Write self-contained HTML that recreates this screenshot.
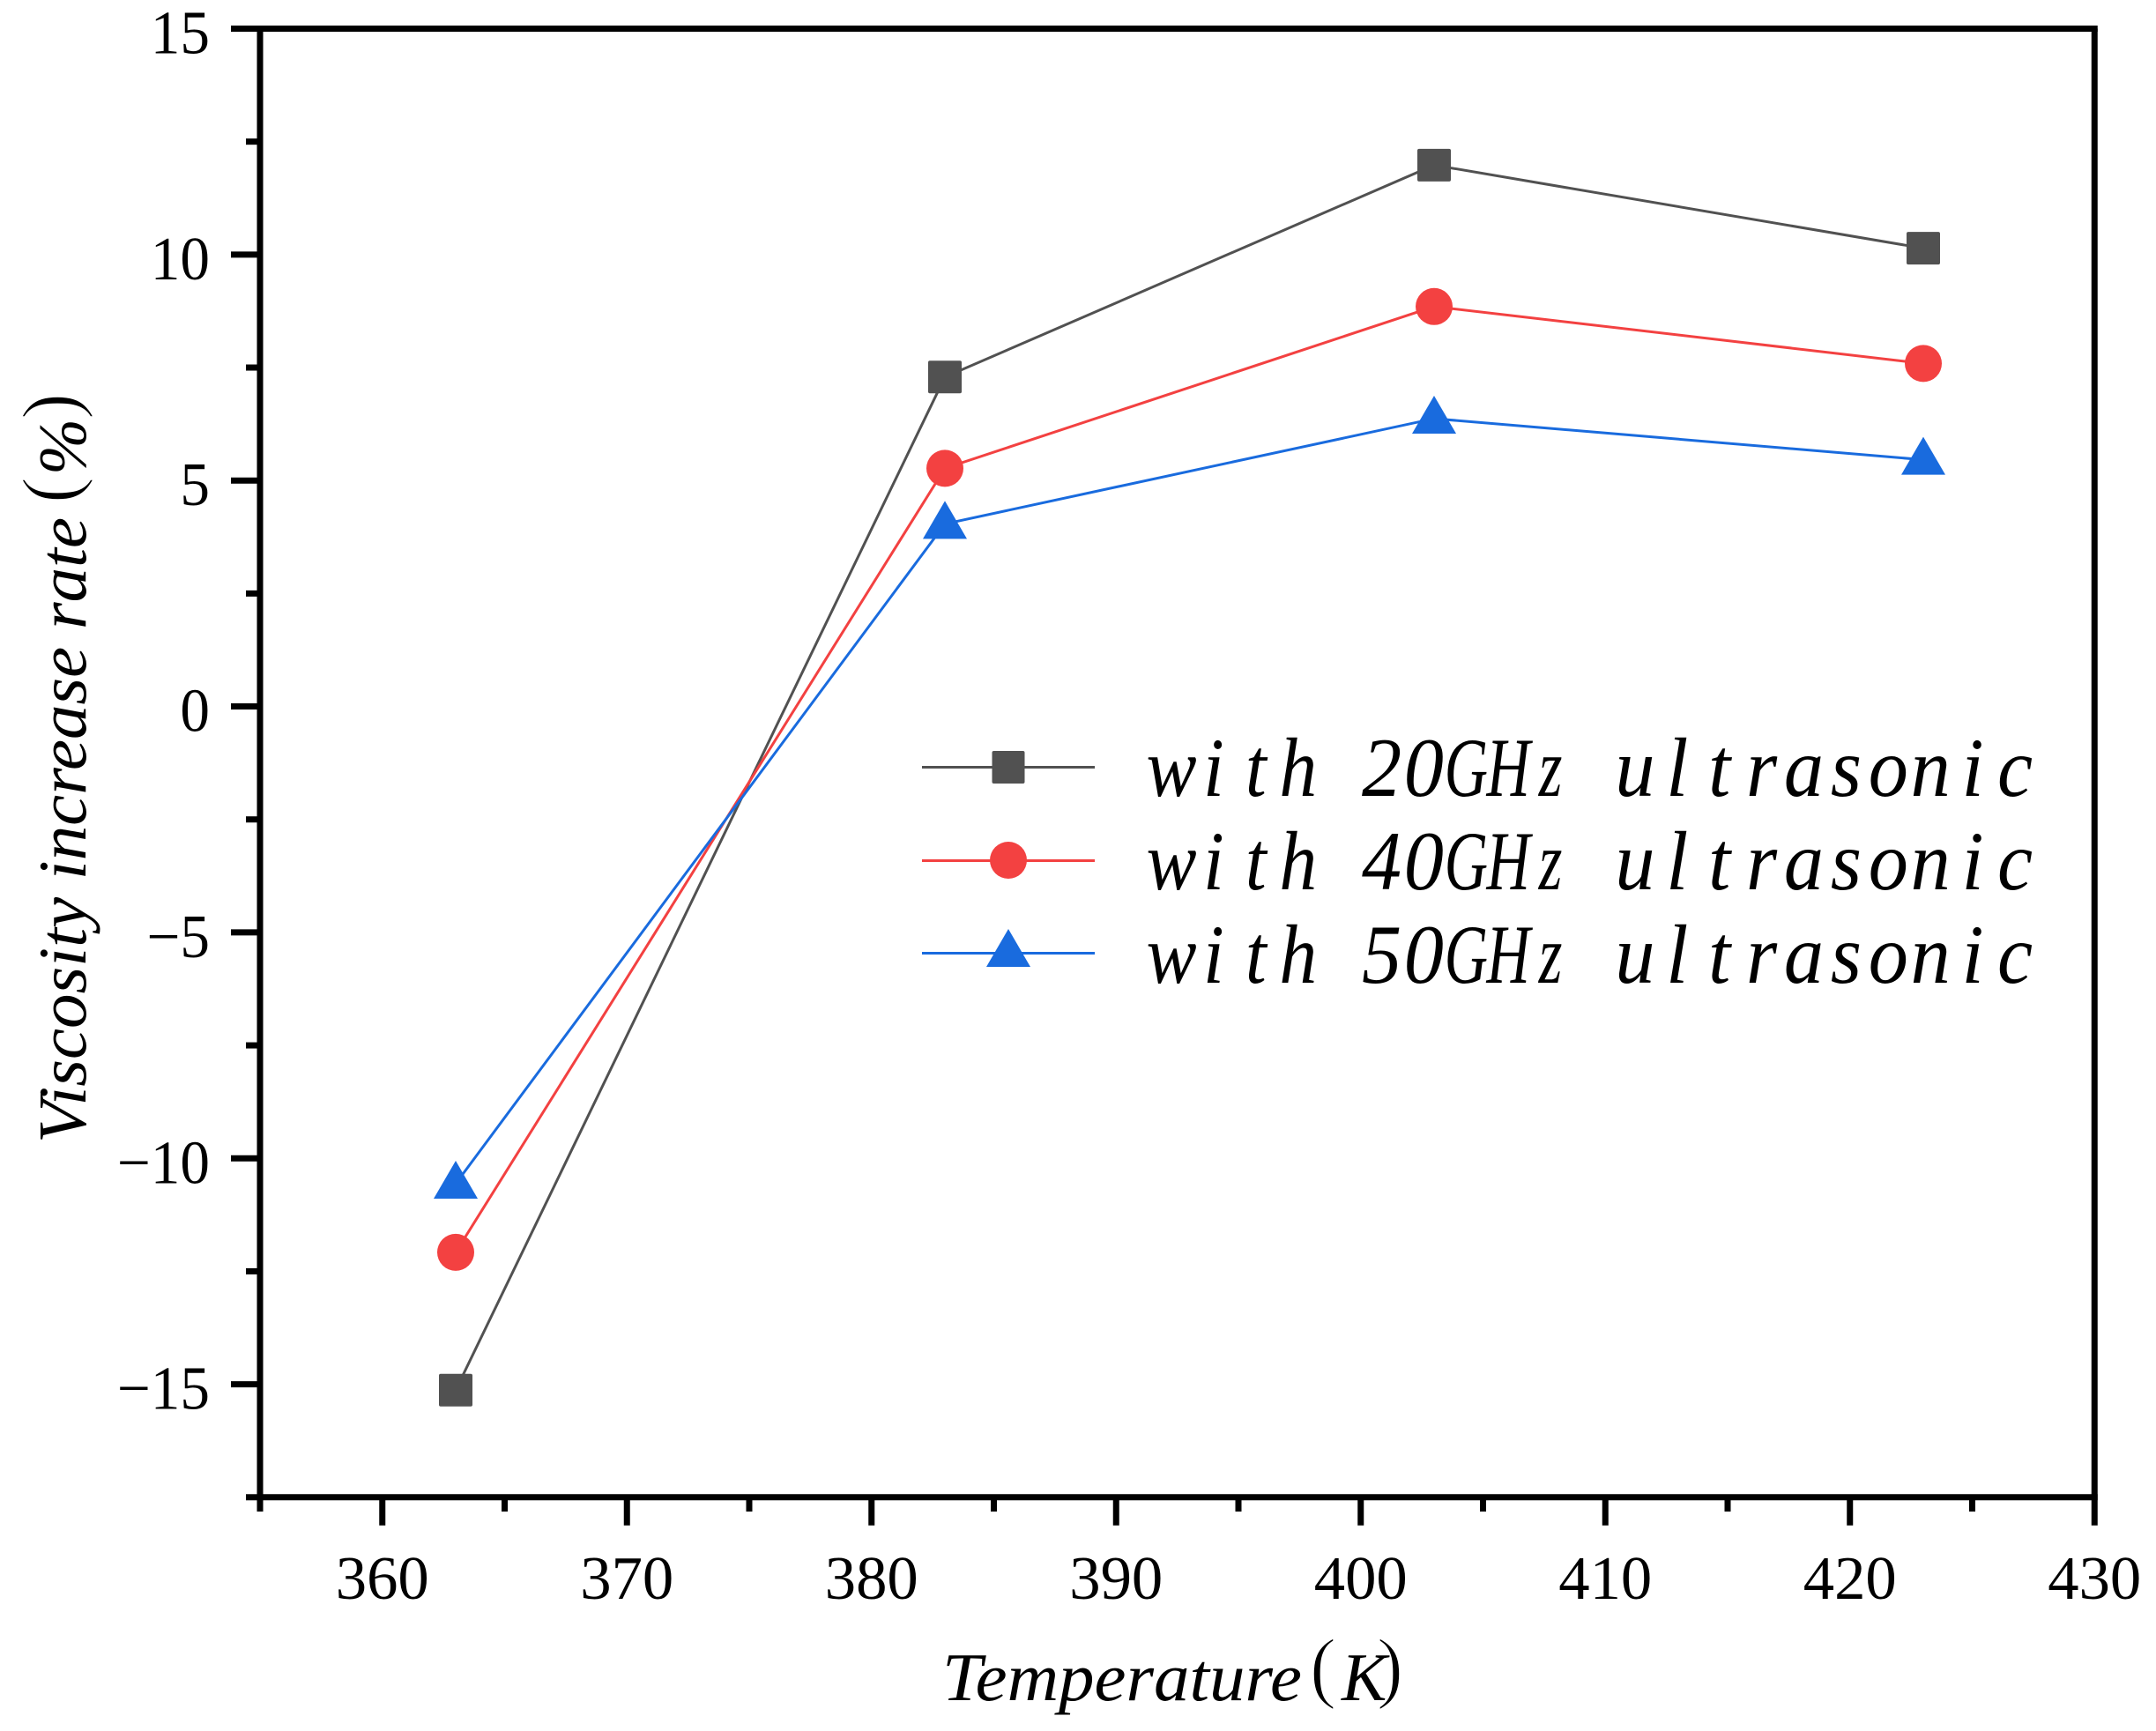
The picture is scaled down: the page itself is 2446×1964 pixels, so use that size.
<!DOCTYPE html>
<html>
<head>
<meta charset="utf-8">
<title>Viscosity increase rate vs temperature</title>
<style>
html,body{margin:0;padding:0;background:#fff;}
svg{display:block;}
text{font-family:"Liberation Serif","Noto Serif CJK SC",serif;fill:#000;}
.it{font-style:italic;}
.paren{stroke:#fff;stroke-width:1.6px;font-size:90px;}
.lg{font-style:italic;font-size:95px;text-anchor:middle;}
</style>
</head>
<body>
<svg id="chart" width="2446" height="1964" viewBox="0 0 2446 1964" xmlns="http://www.w3.org/2000/svg">
  <rect x="0" y="0" width="2446" height="1964" fill="#fff"/>
  <g id="axes"></g>
  <g id="series"></g>

  <g>
    <g>
      <line x1="1046" y1="870.5" x2="1242" y2="870.5" stroke="#515151" stroke-width="3"/>
      <rect x="1125.5" y="852" width="37" height="37" rx="2" fill="#515151"/>
      <g>
        <text class="lg" transform="translate(1329,903) scale(.9,1)" x="0 53.2 106.4 159.7">with</text>
        <text class="lg" transform="translate(1567.5,903) scale(.95,1)" x="0 50.4">20</text>
        <text class="lg" transform="translate(1663.3,903) scale(.72,1)" x="0 66.5 133">GHz</text>
        <text class="lg" transform="translate(1854.9,903) scale(.95,1)" x="0 50.42 100.84 151.26 201.68 252.1 302.52 352.94 403.36 453.8">ultrasonic</text>
      </g>
    </g>
    <g>
      <line x1="1046" y1="976.5" x2="1242" y2="976.5" stroke="#F34141" stroke-width="3"/>
      <circle cx="1144" cy="976" r="21" fill="#F34141"/>
      <g>
        <text class="lg" transform="translate(1329,1009) scale(.9,1)" x="0 53.2 106.4 159.7">with</text>
        <text class="lg" transform="translate(1567.5,1009) scale(.95,1)" x="0 50.4">40</text>
        <text class="lg" transform="translate(1663.3,1009) scale(.72,1)" x="0 66.5 133">GHz</text>
        <text class="lg" transform="translate(1854.9,1009) scale(.95,1)" x="0 50.42 100.84 151.26 201.68 252.1 302.52 352.94 403.36 453.8">ultrasonic</text>
      </g>
    </g>
    <g>
      <line x1="1046" y1="1081.5" x2="1242" y2="1081.5" stroke="#196BDE" stroke-width="3"/>
      <polygon points="1144,1054 1169,1097 1119,1097" fill="#196BDE"/>
      <g>
        <text class="lg" transform="translate(1329,1115) scale(.9,1)" x="0 53.2 106.4 159.7">with</text>
        <text class="lg" transform="translate(1567.5,1115) scale(.95,1)" x="0 50.4">50</text>
        <text class="lg" transform="translate(1663.3,1115) scale(.72,1)" x="0 66.5 133">GHz</text>
        <text class="lg" transform="translate(1854.9,1115) scale(.95,1)" x="0 50.42 100.84 151.26 201.68 252.1 302.52 352.94 403.36 453.8">ultrasonic</text>
      </g>
    </g>
  </g>

  <text y="1929" font-size="77"><tspan class="it" x="1069" textLength="408" lengthAdjust="spacingAndGlyphs">Temperature</tspan><tspan class="paren" x="1486" y="1921">(</tspan><tspan class="it" x="1522" y="1929">K</tspan><tspan class="paren" x="1562" y="1921">)</tspan></text>

  <text transform="translate(97,1297) rotate(-90)" y="0" font-size="77"><tspan class="it" x="0" textLength="710" lengthAdjust="spacingAndGlyphs">Viscosity increase rate</tspan><tspan class="paren" x="726" y="-10">(</tspan><tspan class="it" x="758" y="0">%</tspan><tspan class="paren" x="821" y="-10">)</tspan></text>
</svg>

<script>
var temperatures = [363, 383, 403, 423];
var values20GHz = [-15.13, 7.29, 11.98, 10.14];
var values40GHz = [-12.08, 5.27, 8.85, 7.59];
var values50GHz = [-10.56, 4.04, 6.37, 5.46];
var xTickLabels = ['360', '370', '380', '390', '400', '410', '420', '430'];
var xMinorTicks = [355, 365, 375, 385, 395, 405, 415, 425];
var yTickLabels = ['15', '10', '5', '0', '-5', '-10', '-15'];
var yMinorTicks = [12.5, 7.5, 2.5, -2.5, -7.5, -12.5, -17.5];

var NS = 'http://www.w3.org/2000/svg';
function xScale(v) { return 295 + (v - 355) * 27.75; }
function yScale(v) { return 32.5 + (15 - v) * 51.27; }

var axes = document.getElementById('axes');
var seriesGroup = document.getElementById('series');

function make(tag, parent, attrs) {
  var el = document.createElementNS(NS, tag);
  for (var k in attrs) { el.setAttribute(k, attrs[k]); }
  parent.appendChild(el);
  return el;
}
function axisLine(parent, x1, y1, x2, y2) {
  return make('line', parent, {x1: x1, y1: y1, x2: x2, y2: y2, stroke: '#000', 'stroke-width': 7});
}

var xLeft = xScale(355), xRight = xScale(430), yTop = yScale(15), yBottom = yScale(-17.5);

var frameLeft = axisLine(axes, xLeft, yTop - 3.5, xLeft, yBottom);


var frameBottom = axisLine(axes, xLeft, yBottom, xRight + 3.5, yBottom);


var frameTop = axisLine(axes, xLeft, yTop, xRight + 3.5, yTop);


var frameRight = axisLine(axes, xRight, yTop, xRight, yBottom);



xTickLabels.forEach(function (label) {
  var v = parseFloat(label);
  var px = xScale(v);
  var tick = axisLine(axes, px, yBottom, px, 1730.7);
  
  
  var t = make('text', axes, {x: px, y: 1814, 'font-size': 70, 'text-anchor': 'middle', textLength: 106, lengthAdjust: 'spacingAndGlyphs'});
  
  
  t.textContent = label;
});
xMinorTicks.forEach(function (v) {
  var px = xScale(v);
  var tick = axisLine(axes, px, yBottom, px, 1715);
  
  
});
yTickLabels.forEach(function (label) {
  var v = parseFloat(label);
  var py = yScale(v);
  var tick = axisLine(axes, 262, py, xLeft, py);
  
  
  var t = make('text', axes, {'font-size': 70, 'text-anchor': 'end', transform: 'translate(238,' + (py + 28) + ') scale(.96,1)'});
  
  
  t.textContent = label.replace('-', '\u2212');
});
yMinorTicks.forEach(function (v) {
  var py = yScale(v);
  var tick = axisLine(axes, 279, py, xLeft, py);
  
  
});

function drawLine(values, color, name) {
  var pts = values.map(function (v, i) { return xScale(temperatures[i]) + ',' + yScale(v); }).join(' ');
  var line = make('polyline', seriesGroup, {points: pts, fill: 'none', stroke: color, 'stroke-width': 3});
  
  
}

drawLine(values20GHz, '#515151', 'series-20ghz');
values20GHz.forEach(function (v, i) {
  var px = xScale(temperatures[i]), py = yScale(v);
  var m = make('rect', seriesGroup, {x: px - 19, y: py - 18.5, width: 38, height: 37, rx: 2, fill: '#515151'});
  
  
});

drawLine(values40GHz, '#F34141', 'series-40ghz');
values40GHz.forEach(function (v, i) {
  var px = xScale(temperatures[i]), py = yScale(v);
  var m = make('circle', seriesGroup, {cx: px, cy: py, r: 21, fill: '#F34141'});
  
  
});

drawLine(values50GHz, '#196BDE', 'series-50ghz');
values50GHz.forEach(function (v, i) {
  var px = xScale(temperatures[i]), py = yScale(v);
  var m = make('polygon', seriesGroup, {points: px + ',' + (py - 26) + ' ' + (px + 25) + ',' + (py + 17) + ' ' + (px - 25) + ',' + (py + 17), fill: '#196BDE'});
  
  
});
</script>
</body>
</html>
